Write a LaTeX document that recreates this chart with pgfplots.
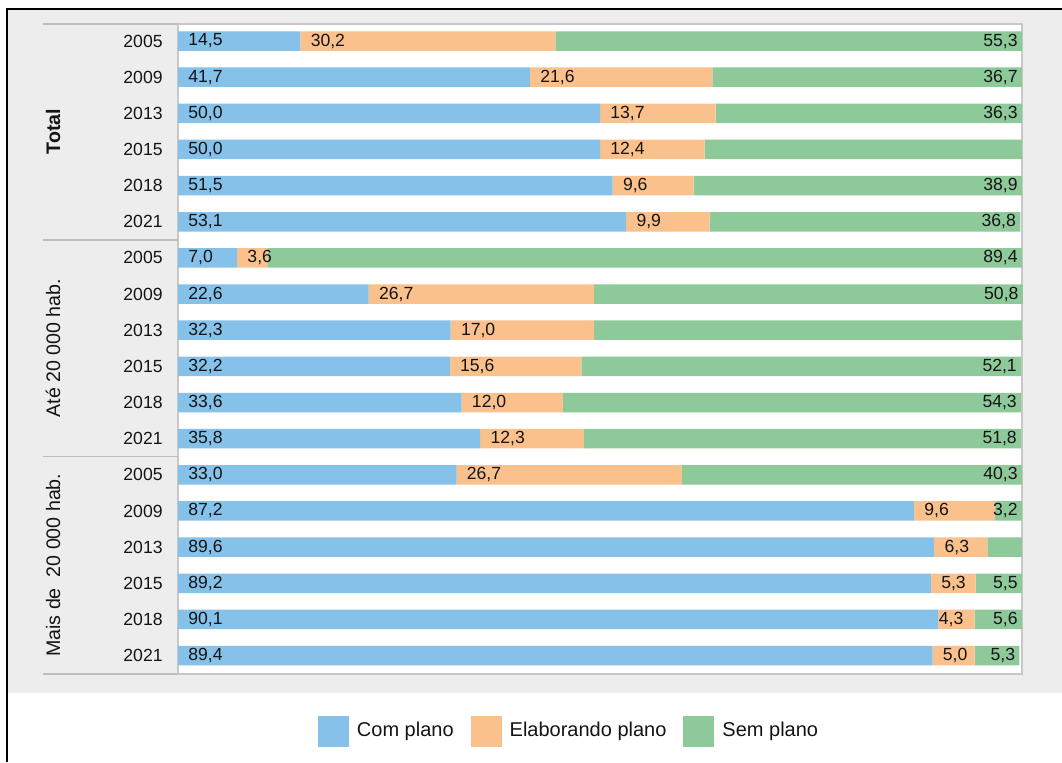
\documentclass[border=0pt]{standalone}
\usepackage{fontspec}
\setmainfont{Liberation Sans}
\usepackage{pgfplots}
\usepackage{pgfplotstable}
\pgfplotsset{compat=1.18}
\definecolor{cblue}{RGB}{133,193,233}
\definecolor{corange}{RGB}{250,193,141}
\definecolor{cgreen}{RGB}{142,201,154}
\definecolor{panel}{RGB}{237,237,237}
\definecolor{sepc}{RGB}{190,190,190}
\definecolor{framec}{RGB}{200,200,200}
\definecolor{txt}{RGB}{20,20,20}

\pgfplotstableread{
i com elab sem cl el sl epad
0 14.5 30.2 55.3 14,5 30,2 55,3 0
1 41.7 21.6 36.7 41,7 21,6 36,7 0
2 50.0 13.7 36.3 50,0 13,7 36,3 0
3 50.0 12.4 37.6 50,0 12,4 {} 0
4 51.5 9.6 38.9 51,5 9,6 38,9 0
5 53.1 9.9 36.8 53,1 9,9 36,8 0
6 7.0 3.6 89.4 7,0 3,6 89,4 0
7 22.6 26.7 50.8 22,6 26,7 50,8 0
8 32.3 17.0 50.7 32,3 17,0 {} 0
9 32.2 15.6 52.1 32,2 15,6 52,1 0
10 33.6 12.0 54.3 33,6 12,0 54,3 0
11 35.8 12.3 51.8 35,8 12,3 51,8 0
12 33.0 26.7 40.3 33,0 26,7 40,3 0
13 87.2 9.6 3.2 87,2 9,6 3,2 0
14 89.6 6.3 4.1 89,6 6,3 {} 0
15 89.2 5.3 5.5 89,2 5,3 5,5 0
16 90.1 4.3 5.6 90,1 4,3 5,6 -1.18
17 89.4 5.0 5.3 89,4 5,0 5,3 0
}\data

\begin{document}
\begin{tikzpicture}
\useasboundingbox (0,0) rectangle (531pt,-381pt);
\fill[white] (0,0) rectangle (531pt,-381pt);
\fill[panel] (3.5pt,-4.5pt) rectangle (531pt,-346.5pt);
\draw[black, line width=1pt] (3.5pt,-381pt) -- (3.5pt,-4.5pt) -- (531pt,-4.5pt);

\begin{axis}[
  at={(89pt,-337pt)}, anchor=south west,
  width=422pt, height=325pt, scale only axis,
  xmin=0, xmax=100, ymin=-0.47, ymax=17.51, y dir=reverse,
  xbar stacked, bar width=9.75pt,
  axis background/.style={fill=white},
  axis line style={draw=framec, line width=0.75pt},
  xtick=\empty, ytick={0,...,17},
  yticklabels={2005,2009,2013,2015,2018,2021,2005,2009,2013,2015,2018,2021,2005,2009,2013,2015,2018,2021},
  major tick length=0pt,
  yticklabel style={font=\fontsize{8.8}{10}\selectfont, text=txt, anchor=east, inner sep=0pt, xshift=-7.5pt},
  clip=false,
  legend style={at={(0.4645,-0.0877)}, anchor=center, draw=none, fill=none,
    font=\fontsize{10}{12}\selectfont, text=txt, inner sep=0pt,
    /tikz/every odd column/.append style={column sep=2pt},
    /tikz/every even column/.append style={column sep=6.5pt}},
  legend columns=3,
  legend cell align=left,
  legend image code/.code={\fill[#1] (0pt,-7.75pt) rectangle (15.5pt,7.75pt);},
]
\addplot[fill=cblue, draw=none] table[x=com, y=i] {\data};
\addplot[fill=corange, draw=none] table[x=elab, y=i] {\data};
\addplot[fill=cgreen, draw=none] table[x=sem, y=i] {\data};
\legend{Com plano, Elaborando plano, Sem plano}
\draw[sepc, line width=0.75pt] (axis cs:-16,-0.47) -- (axis cs:0,-0.47);
\draw[sepc, line width=0.75pt] (axis cs:-16,5.5) -- (axis cs:0,5.5);
\draw[sepc, line width=0.75pt] (axis cs:-16,11.5) -- (axis cs:0,11.5);
\draw[sepc, line width=0.75pt] (axis cs:-16,17.51) -- (axis cs:0,17.51);
\node[rotate=90, font=\fontsize{9.8}{11}\selectfont\bfseries, text=txt] at (axis cs:-14.8,2.5) {Total};
\node[rotate=90, font=\fontsize{9.8}{11}\selectfont, text=txt] at (axis cs:-14.8,8.5) {Até 20~000 hab.};
\node[rotate=90, font=\fontsize{9.8}{11}\selectfont, text=txt] at (axis cs:-14.8,14.5) {Mais de\ \ 20~000 hab.};
\end{axis}

\begin{axis}[
  at={(89pt,-337pt)}, anchor=south west,
  width=422pt, height=325pt, scale only axis,
  xmin=0, xmax=100, ymin=-0.47, ymax=17.51, y dir=reverse,
  hide axis, clip=false,
  point meta=explicit symbolic,
  nodes near coords,
  nodes near coords style={font=\fontsize{8.8}{10}\selectfont, text=txt, inner sep=0pt},
]
\addplot[draw=none, nodes near coords style={anchor=west, xshift=5pt}] table[x expr=0, y=i, meta=cl] {\data};
\addplot[draw=none, nodes near coords style={anchor=west, xshift=5pt}] table[x expr=\thisrow{com}+\thisrow{epad}, y=i, meta=el] {\data};
\addplot[draw=none, nodes near coords style={anchor=east, xshift=-2pt}] table[x expr=\thisrow{com}+\thisrow{elab}+\thisrow{sem}, y=i, meta=sl] {\data};
\end{axis}
\end{tikzpicture}
\end{document}
